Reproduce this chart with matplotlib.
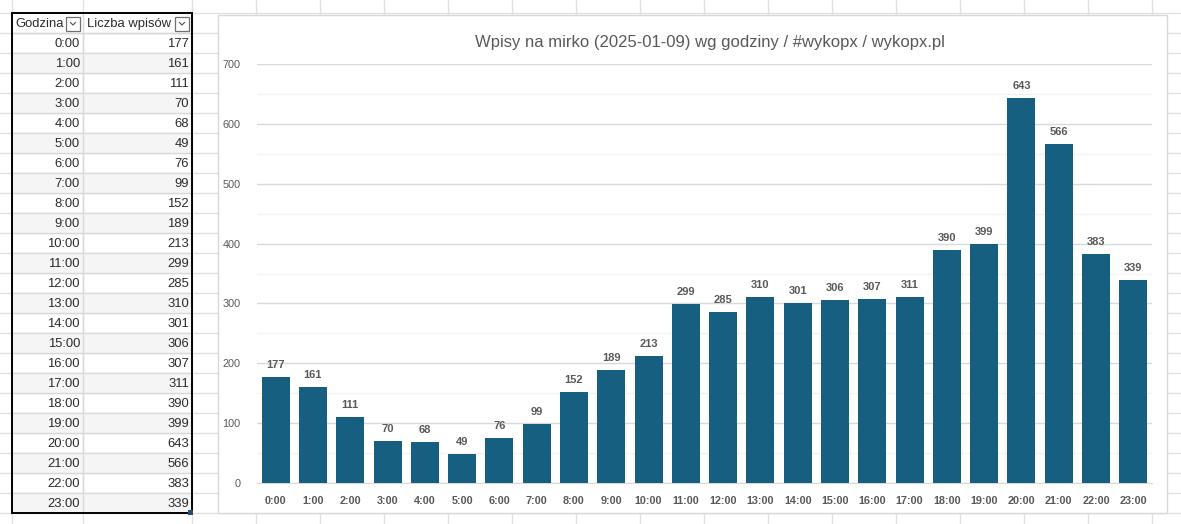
import matplotlib.pyplot as plt
from matplotlib.patches import Rectangle

# -------------------------
# DATA
# -------------------------
hours = [f"{h}:00" for h in range(24)]
counts = [177, 161, 111, 70, 68, 49, 76, 99, 152, 189, 213, 299,
          285, 310, 301, 306, 307, 311, 390, 399, 643, 566, 383, 339]
col_headers = ["Godzina", "Liczba wpisów"]
title = "Wpisy na mirko (2025-01-09) wg godziny / #wykopx / wykopx.pl"
y_ticks = [0, 100, 200, 300, 400, 500, 600, 700]

# -------------------------
# STYLE
# -------------------------
plt.rcParams["font.family"] = ["Liberation Sans", "DejaVu Sans"]
W, H = 1181, 524
BAR = "#175f80"
GRID_XL = "#e1e1e1"
TXT = "#2b2b2b"
GRAY = "#595959"

fig = plt.figure(figsize=(W / 100, H / 100), dpi=100)

# spreadsheet background in pixel coords
bg = fig.add_axes([0, 0, 1, 1])
bg.set_xlim(0, W)
bg.set_ylim(H, 0)
bg.axis("off")

# sheet grid
for y in range(13 - 20, H + 20, 20):
    bg.plot([0, W], [y, y], color=GRID_XL, lw=1, zorder=1)
for x in [12, 83, 192] + list(range(256, W, 64)):
    bg.plot([x, x], [0, H], color=GRID_XL, lw=1, zorder=1)

# table rows (banded)
for i, (h, c) in enumerate(zip(hours, counts)):
    top = 33 + 20 * i
    if i % 2 == 1:
        bg.add_patch(Rectangle((12, top), 180, 20, facecolor="#f5f5f5",
                               edgecolor="none", zorder=2))
    bg.plot([12, 192], [top, top], color="#d9d9d9", lw=1, zorder=3)
    bg.text(80, top + 11, h, ha="right", va="center", fontsize=9.4,
            color=TXT, zorder=4)
    bg.text(189, top + 11, str(c), ha="right", va="center", fontsize=9.4,
            color=TXT, zorder=4)
bg.add_patch(Rectangle((12, 13), 180, 20, facecolor="white",
                       edgecolor="none", zorder=2))
bg.plot([83, 83], [13, 513], color="#d9d9d9", lw=1, zorder=3)
bg.plot([12, 192], [33, 33], color="#d9d9d9", lw=1, zorder=3)

# headers + filter buttons
bg.text(15, 24, col_headers[0], ha="left", va="center", fontsize=9.4,
        color=TXT, zorder=4)
bg.text(87, 24, col_headers[1], ha="left", va="center", fontsize=9.4,
        color=TXT, zorder=4)
for bx in [66, 175]:
    bg.add_patch(Rectangle((bx, 17), 14, 14, facecolor="white",
                           edgecolor="#707070", lw=0.9, zorder=4))
    bg.plot([bx + 4.5, bx + 7, bx + 9.5], [22.5, 25, 22.5],
            color="#505050", lw=0.8, zorder=5)

# table outline
bg.add_patch(Rectangle((12, 13), 180, 500, facecolor="none",
                       edgecolor="black", lw=1.4, zorder=6))
bg.add_patch(Rectangle((188, 510), 5, 5, facecolor="#1f4e79",
                       edgecolor="none", zorder=7))

# chart box
bg.add_patch(Rectangle((218, 15), 949, 498, facecolor="white",
                       edgecolor="#d9d9d9", lw=1, zorder=8))
bg.text(710, 42, title, ha="center", va="center", fontsize=12,
        color=GRAY, zorder=9)

# -------------------------
# BAR CHART
# -------------------------
ax = fig.add_axes([257 / W, (H - 483) / H, (1152 - 257) / W, (483 - 64) / H])
ax.set_facecolor("none")
ax.set_zorder(10)

x = list(range(len(hours)))
ax.bar(x, counts, width=0.75, color=BAR, zorder=3)
for xi, c in zip(x, counts):
    ax.annotate(str(c), (xi, c), xytext=(0, 5), textcoords="offset points",
                ha="center", va="bottom", fontsize=8, fontweight="bold",
                color=GRAY)

ax.set_xlim(-0.5, len(hours) - 0.5)
ax.set_ylim(0, 700)
ax.set_yticks(y_ticks)
ax.set_yticks(range(50, 700, 100), minor=True)
ax.set_xticks(x)
ax.set_xticklabels(hours, fontsize=7.8, fontweight="bold", color=GRAY)
ax.tick_params(axis="y", length=0, labelsize=7.8, labelcolor=GRAY, pad=12)
ax.tick_params(axis="y", which="minor", length=0)
ax.tick_params(axis="x", length=0, pad=9)
ax.grid(axis="y", which="major", color="#d9d9d9", lw=1, zorder=0)
ax.grid(axis="y", which="minor", color="#f2f2f2", lw=1, zorder=0)
for s in ["top", "right", "left"]:
    ax.spines[s].set_visible(False)
ax.spines["bottom"].set_color("#d9d9d9")

fig.savefig("out.png", dpi=100)
